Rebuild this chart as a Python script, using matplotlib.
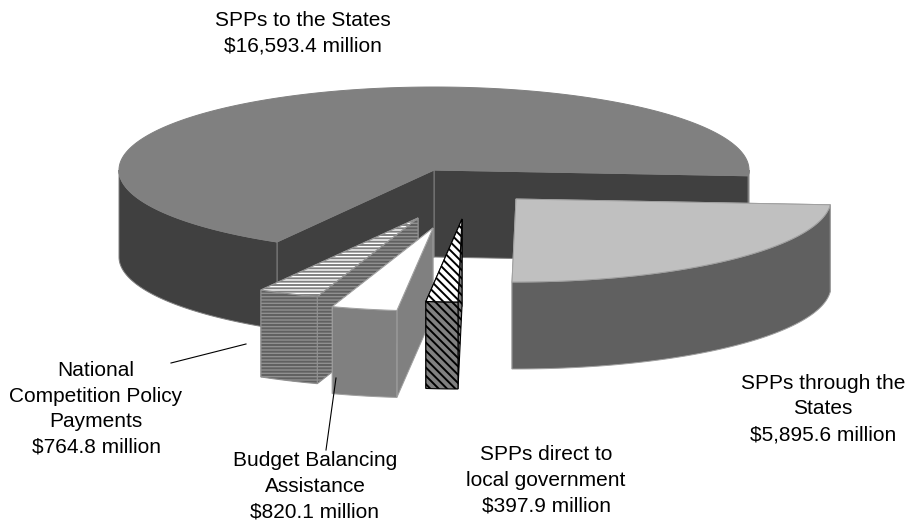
import numpy as np
import matplotlib
matplotlib.use('Agg')
import matplotlib.pyplot as plt
from matplotlib.patches import Polygon

names = ['SPPs to the States', 'National\nCompetition Policy\nPayments',
         'Budget Balancing\nAssistance', 'SPPs direct to\nlocal government',
         'SPPs through the\nStates']
values = [16593.4, 764.8, 820.1, 397.9, 5895.6]

# layout, in pixels of the 913x527 picture
rx = 315
ry = 83
depth = 87
start_angle = -4
centres = [(434, 170), (418, 218), (433, 228), (462, 219), (516, 199)]
label_pos = [(303, 33), (96, 409), (315, 486), (546, 480), (823, 409)]

top_style = [dict(facecolor='#808080'),
             dict(facecolor='white', hatch='-----', hatch_ec='#808080'),
             dict(facecolor='white'),
             dict(facecolor='white', hatch='\\' * 4, hatch_ec='black'),
             dict(facecolor='#c0c0c0')]
wall_style = [dict(facecolor='#404040'),
              dict(facecolor='#909090', hatch='-----', hatch_ec='#606060'),
              dict(facecolor='#808080'),
              dict(facecolor='#808080', hatch='\\' * 4, hatch_ec='black'),
              dict(facecolor='#606060')]
line_col = ['#808080', '#909090', '#a0a0a0', 'black', '#a0a0a0']

plt.rcParams['font.family'] = ['Liberation Sans', 'DejaVu Sans']
plt.rcParams['hatch.linewidth'] = 1.4

fig = plt.figure(figsize=(9.13, 5.27), dpi=100)
ax = fig.add_axes([0, 0, 1, 1])
ax.set_xlim(0, 913)
ax.set_ylim(527, 0)
ax.axis('off')


def rim(c, a0, a1):
    t = np.radians(np.arange(a0, a1, 0.5).tolist() + [a1])
    return np.column_stack([c[0] + rx * np.cos(t), c[1] - ry * np.sin(t)])


def add_poly(pts, style, edge):
    st = dict(style)
    hatch_ec = st.pop('hatch_ec', None)
    hatch = st.pop('hatch', None)
    if hatch:
        # one patch for the hatch, one for the outline
        ax.add_patch(Polygon(pts, closed=True, facecolor=st['facecolor'], edgecolor=hatch_ec,
                             hatch=hatch, linewidth=0))
        ax.add_patch(Polygon(pts, closed=True, facecolor='none', edgecolor=edge, linewidth=0.8))
    else:
        ax.add_patch(Polygon(pts, closed=True, facecolor=st['facecolor'], edgecolor=edge, linewidth=0.7))


def extrude(edge_pts):
    down = edge_pts + np.array([0, depth])
    return np.vstack([edge_pts, down[::-1]])


total = sum(values)
a = start_angle
for i in range(len(values)):
    sweep = values[i] / total * 360
    a0, a1 = a, a + sweep
    a = a1
    c = centres[i]
    arc = rim(c, a0, a1)
    apex = np.array([c])

    # flat sides first, then the rim, then the top
    add_poly(extrude(np.vstack([apex, arc[:1]])), wall_style[i], line_col[i])
    add_poly(extrude(np.vstack([apex, arc[-1:]])), wall_style[i], line_col[i])
    for lo, hi in [(180, 360), (-180, 0)]:
        b0, b1 = max(a0, lo), min(a1, hi)
        if b1 > b0:
            add_poly(extrude(rim(c, b0, b1)), wall_style[i], line_col[i])
    add_poly(np.vstack([apex, arc]), top_style[i], line_col[i])

# leader lines
ax.plot([171, 246], [363, 344], color='black', lw=0.8)
ax.plot([336, 326], [378, 450], color='black', lw=0.8)

for i in range(len(names)):
    ax.text(label_pos[i][0], label_pos[i][1], names[i] + '\n$%s million' % format(values[i], ',.1f'),
            ha='center', va='center', fontsize=15, linespacing=1.44, parse_math=False)

fig.savefig('out.png', dpi=100)
